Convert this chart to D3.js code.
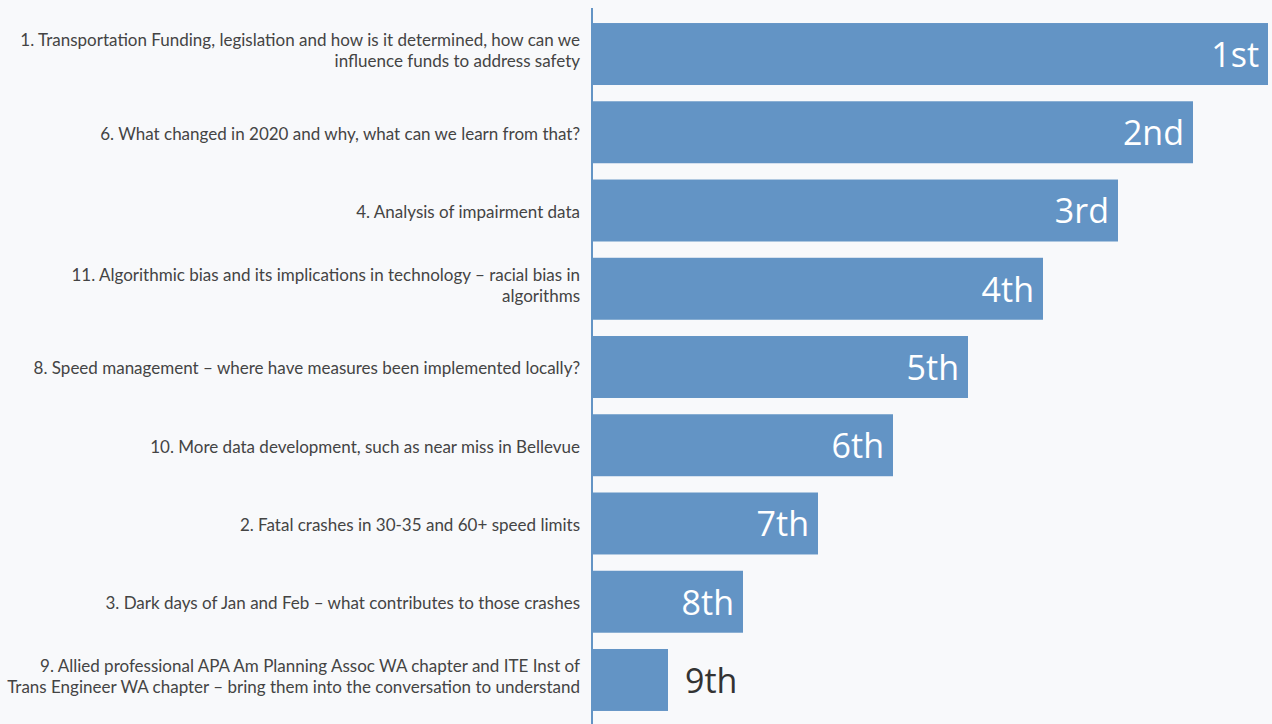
<!DOCTYPE html>
<html><head><meta charset="utf-8">
<script src="https://cdn.jsdelivr.net/npm/d3@7"></script>
<style>
html,body{margin:0;padding:0;background:#f8f9fb;}
svg{display:block;}
</style></head>
<body>
<svg id="c" width="1272" height="724"></svg>
<script>
const categories = [
  "1. Transportation Funding, legislation and how is it determined, how can we\ninfluence funds to address safety",
  "6. What changed in 2020 and why, what can we learn from that?",
  "4. Analysis of impairment data",
  "11. Algorithmic bias and its implications in technology – racial bias in\nalgorithms",
  "8. Speed management – where have measures been implemented locally?",
  "10. More data development, such as near miss in Bellevue",
  "2. Fatal crashes in 30-35 and 60+ speed limits",
  "3. Dark days of Jan and Feb – what contributes to those crashes",
  "9. Allied professional APA Am Planning Assoc WA chapter and ITE Inst of\nTrans Engineer WA chapter – bring them into the conversation to understand"
];
const scores = [9, 8, 7, 6, 5, 4, 3, 2, 1];
const rankLabels = ["1st","2nd","3rd","4th","5th","6th","7th","8th","9th"];

const svg = d3.select("#c");
const W = 1272, H = 724;
const axisX = 593;
const x = d3.scaleLinear().domain([0, 9]).range([axisX, 1268]);
const y = d3.scaleBand().domain(categories).range([14.9, 719.1]).paddingInner(0.208).paddingOuter(0.104);

svg.append("rect").attr("width", W).attr("height", H).attr("fill", "#f8f9fb");

const data = categories.map((c, i) => ({c, v: scores[i], r: rankLabels[i]}));

svg.selectAll("rect.bar").data(data).enter().append("rect")
  .attr("class", "bar")
  .attr("x", axisX)
  .attr("y", d => y(d.c))
  .attr("width", d => x(d.v) - axisX)
  .attr("height", y.bandwidth())
  .attr("fill", "#6394c5");

svg.append("line").attr("x1", 592).attr("x2", 592).attr("y1", 8).attr("y2", H)
  .attr("stroke", "#6394c5").attr("stroke-width", 2);

const lab = svg.selectAll("text.cat").data(data).enter().append("text")
  .attr("class", "cat")
  .attr("text-anchor", "end")
  .attr("font-family", "'Source Sans Pro', Lato, sans-serif")
  .attr("font-size", 17)
  .attr("fill", "#444");
lab.each(function(d) {
  const lines = d.c.split("\n");
  const cy = y(d.c) + y.bandwidth() / 2 + (lines.length > 1 ? -3 : 1.5);
  const lh = 21;
  const t = d3.select(this);
  lines.forEach((ln, k) => {
    t.append("tspan").attr("x", 580)
      .attr("y", cy + (k - (lines.length - 1) / 2) * lh)
      .attr("dy", "0.35em").text(ln);
  });
});

svg.selectAll("text.rank").data(data).enter().append("text")
  .attr("class", "rank")
  .attr("font-family", "'Source Sans Pro', 'Open Sans', sans-serif")
  .attr("font-size", 34)
  .attr("x", d => d.v > 1 ? x(d.v) - 9 : x(d.v) + 17)
  .attr("text-anchor", d => d.v > 1 ? "end" : "start")
  .attr("y", d => y(d.c) + y.bandwidth() / 2 + 1)
  .attr("dy", "0.35em")
  .attr("fill", d => d.v > 1 ? "#ffffff" : "#333")
  .text(d => d.r);
</script>
</body></html>
